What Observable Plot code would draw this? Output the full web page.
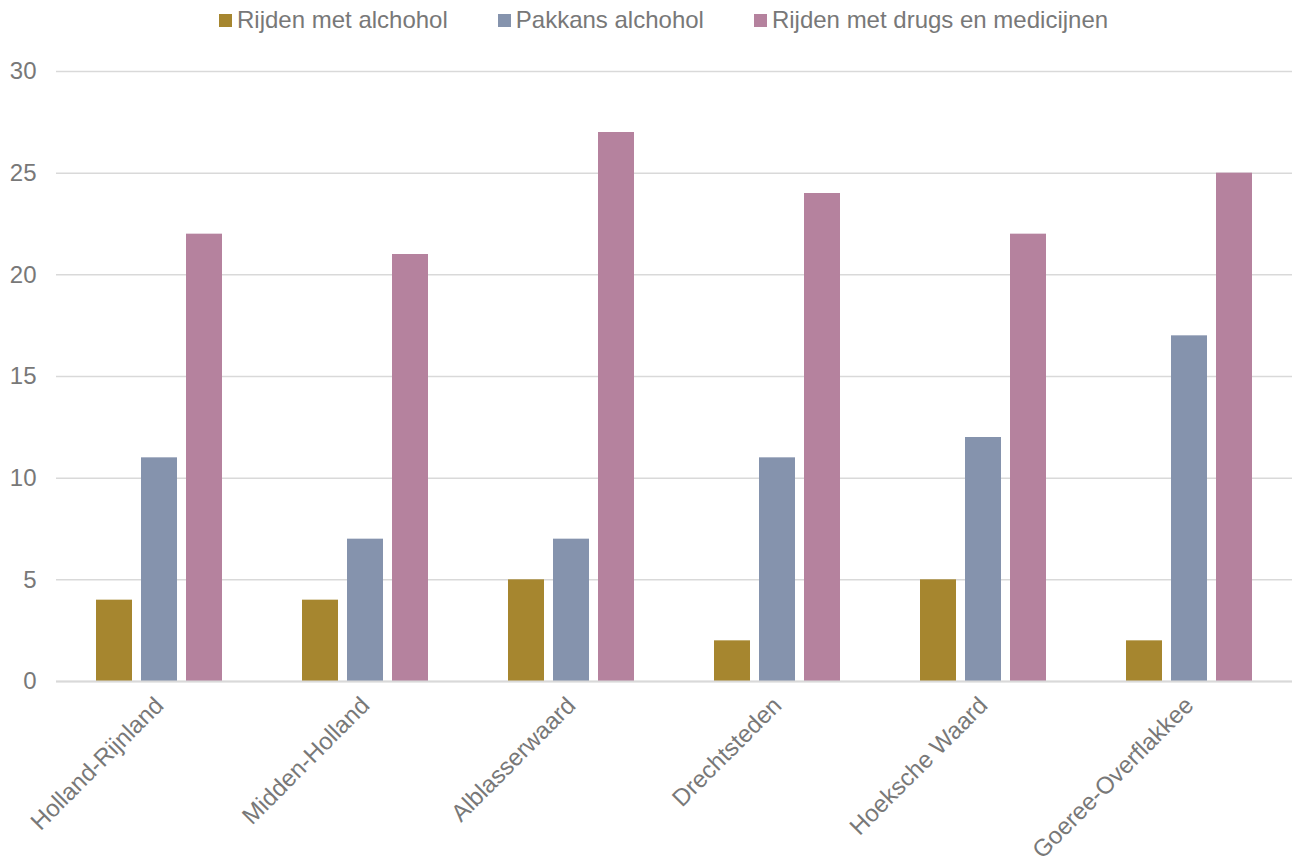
<!DOCTYPE html>
<html>
<head>
<meta charset="utf-8">
<script src="https://cdn.jsdelivr.net/npm/d3@7"></script>
<script src="https://cdn.jsdelivr.net/npm/@observablehq/plot@0.6"></script>
<style>
  body { margin: 0; background: #fff; font-family: "Liberation Sans", Arial, sans-serif; }
  #legend { height: 40px; display: flex; justify-content: flex-start; align-items: center; gap: 50px; font-size: 24px; color: #787878; padding-left: 219px; box-sizing: border-box; }
  #legend .item { display: flex; align-items: center; }
  #legend .sw { width: 13px; height: 13px; margin-right: 5px; }
</style>
</head>
<body>
<div id="legend"></div>
<div id="chart"></div>
<script>
const regions = ["Holland-Rijnland", "Midden-Holland", "Alblasserwaard", "Drechtsteden", "Hoeksche Waard", "Goeree-Overflakkee"];
const series = ["Rijden met alchohol", "Pakkans alchohol", "Rijden met drugs en medicijnen"];
const rijdenAlcohol = [4, 4, 5, 2, 5, 2];
const pakkansAlcohol = [11, 7, 7, 11, 12, 17];
const rijdenDrugs = [22, 21, 27, 24, 22, 25];
const colors = ["#a6862f", "#8593ad", "#b5829e"];
const yTicks = [0, 5, 10, 15, 20, 25, 30];

const valuesBySeries = [rijdenAlcohol, pakkansAlcohol, rijdenDrugs];
const data = [];
regions.forEach((r, i) => {
  series.forEach((s, j) => data.push({region: r, series: s, value: valuesBySeries[j][i]}));
});

const legend = document.getElementById("legend");
series.forEach((s, j) => {
  const it = document.createElement("div");
  it.className = "item";
  it.innerHTML = `<span class="sw" style="background:${colors[j]}"></span><span>${s}</span>`;
  legend.appendChild(it);
});

const chart = Plot.plot({
  width: 1298,
  height: 823,
  marginLeft: 55,
  marginRight: 6,
  marginTop: 31,
  marginBottom: 182,
  style: {fontFamily: "'Liberation Sans', Arial, sans-serif", fontSize: "24px", color: "#787878", background: "#fff"},
  fx: {domain: regions, padding: 0, label: null, tickRotate: -45, tickSize: 0, tickPadding: 20},
  x: {domain: series, paddingInner: 0.209, paddingOuter: 0.868, axis: null},
  y: {domain: [0, 30], label: null, ticks: yTicks, tickSize: 0, tickPadding: 20, tickFormat: d3.format("d")},
  color: {domain: series, range: colors},
  marks: [
    Plot.gridY(yTicks, {stroke: "#d9d9d9", strokeOpacity: 1, strokeWidth: 1.5}),
    Plot.barY(data, {fx: "region", x: "series", y: "value", fill: "series"}),
    Plot.ruleY([0], {stroke: "#d9d9d9", strokeWidth: 2})
  ]
});
document.getElementById("chart").appendChild(chart);
</script>
</body>
</html>
